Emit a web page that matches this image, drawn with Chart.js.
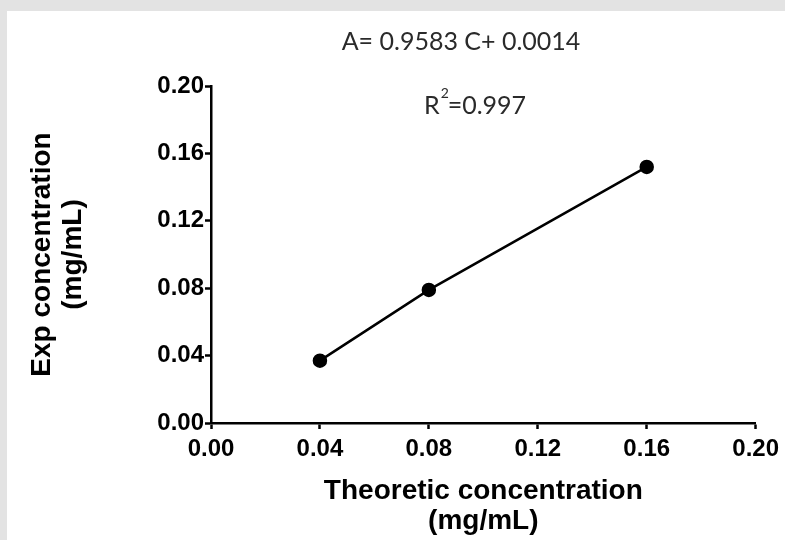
<!DOCTYPE html>
<html>
<head>
<meta charset="utf-8">
<script src="https://cdn.jsdelivr.net/npm/chart.js@4.4.0/dist/chart.umd.min.js"></script>
<style>
  html, body { margin: 0; padding: 0; }
  body { width: 785px; height: 540px; background: #e3e3e3; position: relative; overflow: hidden; }
  .panel { position: absolute; left: 7px; top: 11px; width: 778px; height: 529px; background: #fff; }
  canvas { display: block; }
</style>
</head>
<body>
<div class="panel">
  <canvas id="calibChart" width="778" height="529"></canvas>
</div>
<script>
/* Data */
const theoretic = [0.04, 0.08, 0.16];
const experimental = [0.037, 0.079, 0.152];
const tickValues = [0.00, 0.04, 0.08, 0.12, 0.16, 0.20];
const equationText = 'A= 0.9583 C+ 0.0014';
const r2Text = '=0.997';

const points = theoretic.map((x, i) => ({ x: x, y: experimental[i] }));

/* Equation and R^2 labels above the plot */
const labelFamily = 'Lato, "Open Sans", sans-serif';
const annotations = {
  id: 'annotations',
  afterDraw(chart) {
    const ctx = chart.ctx;
    ctx.save();
    ctx.fillStyle = '#2a2a2a';
    ctx.textBaseline = 'middle';
    ctx.font = '25px ' + labelFamily;
    ctx.textAlign = 'center';
    ctx.fillText(equationText, 454, 31);
    ctx.textAlign = 'left';
    ctx.fillText('R', 417, 95);
    const rw = ctx.measureText('R').width;
    ctx.font = '14px ' + labelFamily;
    ctx.fillText('2', 417 + rw + 1, 82);
    ctx.font = '25px ' + labelFamily;
    ctx.fillText(r2Text, 417 + rw + 8, 95);
    ctx.restore();
  },
};

const axisFont = { family: '"Liberation Sans", Arial, sans-serif', size: 24, weight: 'bold' };
const titleFont = { family: '"Liberation Sans", Arial, sans-serif', size: 28, weight: 'bold', lineHeight: 1.1 };

const ctx = document.getElementById('calibChart').getContext('2d');
const calibChart = new Chart(ctx, {
  type: 'line',
  data: {
    datasets: [
      {
        data: points,
        borderColor: '#000',
        backgroundColor: '#000',
        borderWidth: 2.5,
        pointRadius: 6,
        pointBackgroundColor: '#000',
        pointBorderColor: '#000',
        fill: false,
        tension: 0,
      },
    ],
  },
  options: {
    responsive: false,
    animation: false,
    layout: { padding: { top: 75, right: 26, left: 0, bottom: 0 } },
    plugins: {
      legend: { display: false },
      tooltip: { enabled: false },
    },
    scales: {
      x: {
        type: 'linear',
        min: 0,
        max: 0.2,
        afterFit: (scale) => { scale.height = 117; },
        afterBuildTicks: (scale) => { scale.ticks = tickValues.map((v) => ({ value: v })); },
        ticks: {
          color: '#000',
          font: axisFont,
          padding: 6,
          maxRotation: 0,
          callback: (v) => Number(v).toFixed(2),
        },
        grid: { drawOnChartArea: false, drawTicks: true, tickLength: 6, tickWidth: 2.5, tickColor: '#000' },
        border: { display: true, color: '#000', width: 2.5 },
        title: {
          display: true,
          text: ['Theoretic concentration', '(mg/mL)'],
          color: '#000',
          font: titleFont,
          padding: { top: 0, bottom: 3 },
        },
      },
      y: {
        type: 'linear',
        min: 0,
        max: 0.2,
        afterFit: (scale) => { scale.width = 204; },
        afterBuildTicks: (scale) => { scale.ticks = tickValues.map((v) => ({ value: v })); },
        ticks: {
          color: '#000',
          font: axisFont,
          padding: 1,
          callback: (v) => Number(v).toFixed(2),
        },
        grid: { drawOnChartArea: false, drawTicks: true, tickLength: 6, tickWidth: 2.5, tickColor: '#000' },
        border: { display: true, color: '#000', width: 2.5 },
        title: {
          display: true,
          text: ['Exp concentration', '(mg/mL)'],
          color: '#000',
          font: titleFont,
          padding: { top: 20, bottom: 0 },
        },
      },
    },
  },
  plugins: [annotations],
});
</script>
</body>
</html>
